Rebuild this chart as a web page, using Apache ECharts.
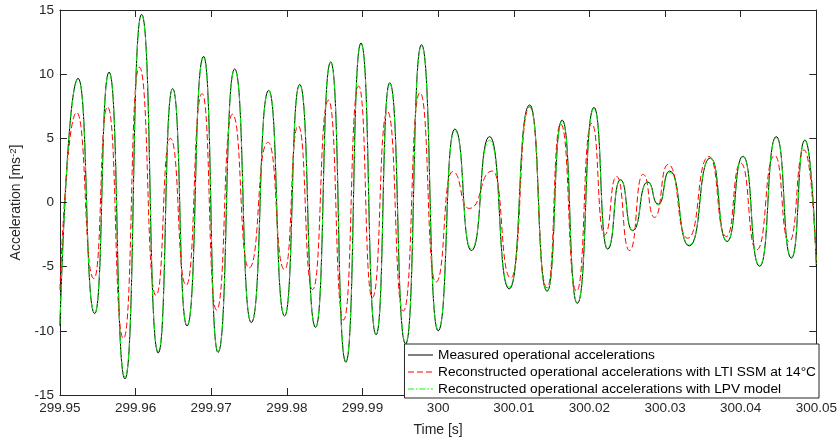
<!DOCTYPE html>
<html>
<head>
<meta charset="utf-8">
<script src="https://cdn.jsdelivr.net/npm/echarts@6/dist/echarts.min.js"></script>
<style>
  html, body { margin: 0; padding: 0; background: #fff; }
  #chart { width: 840px; height: 442px; }
</style>
</head>
<body>
<div id="chart"></div>
<script>
// Measured response: local extrema (time [s], acceleration [m/s^2])
const measuredT = [299.9500, 299.9524, 299.9546, 299.9565, 299.9586, 299.9608, 299.9630, 299.9649, 299.9668,
  299.9690, 299.9709, 299.9731, 299.9753, 299.9776, 299.9797, 299.9817, 299.9838, 299.9858, 299.9878,
  299.9898, 299.9918, 299.9936, 299.9957, 299.9978, 300.0000, 300.0022, 300.0044, 300.0068, 300.0094,
  300.0121, 300.0144, 300.0164, 300.0184, 300.0206, 300.0224, 300.0241, 300.0257, 300.0277, 300.0291,
  300.0306, 300.0332, 300.0360, 300.0382, 300.0403, 300.0425, 300.0447, 300.0467, 300.0485, 300.0500];
const measuredV = [-9.6, 9.67, -8.66, 10.16, -13.74, 14.67, -11.73, 8.89, -9.62,
  11.39, -11.68, 10.41, -9.36, 8.74, -8.84, 9.2, -9.74, 10.96, -12.45,
  12.43, -10.31, 9.33, -11.03, 12.3, -10.0, 5.72, -3.74, 5.13, -6.73,
  7.6, -6.91, 6.42, -7.86, 7.4, -3.63, 1.78, -2.19, 1.6, -0.13,
  2.45, -3.38, 3.48, -3.04, 3.61, -4.97, 5.13, -4.33, 4.87, -5.0];

// LTI state-space model at 14 °C
const ltiT = [299.9500, 299.9522, 299.9545, 299.9563, 299.9584, 299.9605, 299.9627, 299.9646, 299.9667,
  299.9688, 299.9707, 299.9728, 299.9750, 299.9775, 299.9797, 299.9815, 299.9834, 299.9855, 299.9875,
  299.9895, 299.9913, 299.9933, 299.9954, 299.9976, 299.9997, 300.0019, 300.0041, 300.0072, 300.0096,
  300.0121, 300.0144, 300.0162, 300.0183, 300.0203, 300.0220, 300.0236, 300.0253, 300.0271, 300.0286,
  300.0304, 300.0330, 300.0358, 300.0381, 300.0400, 300.0421, 300.0445, 300.0464, 300.0484, 300.0500];
const ltiV = [-6.8, 7.01, -5.93, 7.45, -10.6, 10.54, -7.24, 5.0, -6.44,
  8.48, -8.38, 6.88, -5.1, 4.69, -5.23, 5.98, -6.78, 7.97, -9.15,
  9.07, -7.42, 7.09, -8.45, 8.56, -6.21, 2.4, -0.46, 2.45, -5.88,
  7.45, -6.65, 6.11, -6.91, 6.16, -2.53, 2.03, -3.74, 2.19, -1.16,
  2.96, -2.78, 3.58, -2.65, 3.07, -3.69, 3.66, -3.04, 4.1, -4.7];

// LPV model
const lpvT = measuredT;
const lpvV = [-9.5, 9.6, -8.6, 10.1, -13.6, 14.6, -11.6, 8.85, -9.55,
  11.3, -11.6, 10.35, -9.3, 8.7, -8.8, 9.15, -9.7, 10.9, -12.35,
  12.35, -10.25, 9.25, -10.95, 12.2, -9.9, 5.6, -3.6, 4.85, -6.6,
  7.5, -6.85, 6.35, -7.8, 7.3, -3.5, 1.75, -2.15, 1.55, -0.2,
  2.35, -3.3, 3.45, -3.0, 3.55, -4.9, 5.05, -4.25, 4.8, -4.95];

const seriesNames = [
  'Measured operational accelerations',
  'Reconstructed operational accelerations with LTI SSM at 14°C',
  'Reconstructed operational accelerations with LPV model'
];

const xTicks = { min: 299.95, max: 300.05, step: 0.01 };
const yTicks = { min: -15, max: 15, step: 5 };

const zip = (t, v) => t.map((x, i) => [x, v[i]]);

const axisColor = '#262626';
const font = 'Liberation Sans, Arial, Helvetica, sans-serif';
const fontSize = 13.5;
const smoothness = 0.6;

const chart = echarts.init(document.getElementById('chart'), null, { renderer: 'canvas' });

const baseX = {
  type: 'value', min: xTicks.min, max: xTicks.max, interval: xTicks.step,
  axisLine: { show: true, onZero: false, lineStyle: { color: axisColor, width: 1 } },
  axisTick: { show: true, inside: true, length: 7, lineStyle: { color: axisColor } },
  splitLine: { show: false }
};
const baseY = {
  type: 'value', min: yTicks.min, max: yTicks.max, interval: yTicks.step,
  axisLine: { show: true, onZero: false, lineStyle: { color: axisColor, width: 1 } },
  axisTick: { show: true, inside: true, length: 7, lineStyle: { color: axisColor } },
  splitLine: { show: false }
};

chart.setOption({
  animation: false,
  backgroundColor: '#ffffff',
  textStyle: { fontFamily: font },
  grid: { left: 55, right: 21, top: 10, bottom: 44, containLabel: false },
  xAxis: [
    Object.assign({}, baseX, {
      position: 'bottom',
      axisLabel: {
        color: axisColor, fontSize: fontSize, fontFamily: font, margin: 6,
        formatter: v => String(parseFloat(v.toFixed(2)))
      },
      name: 'Time [s]', nameLocation: 'middle', nameGap: 28,
      nameTextStyle: { color: axisColor, fontSize: 14, fontFamily: font }
    }),
    Object.assign({}, baseX, {
      position: 'top',
      axisLabel: { show: false }
    })
  ],
  yAxis: [
    Object.assign({}, baseY, {
      position: 'left',
      axisLabel: { color: axisColor, fontSize: fontSize, fontFamily: font, margin: 6 },
      name: '{n|Acceleration [ms}{s|-2}{n|]}', nameLocation: 'middle', nameGap: 23,
      nameTextStyle: {
        rich: {
          n: { color: axisColor, fontSize: 14, fontFamily: font },
          s: { color: axisColor, fontSize: 9.5, fontFamily: font, padding: [0, 0, 7, 0] }
        }
      }
    }),
    Object.assign({}, baseY, {
      position: 'right',
      axisLabel: { show: false }
    })
  ],
  legend: {
    orient: 'vertical',
    right: 21, top: 344,
    backgroundColor: '#ffffff',
    borderColor: axisColor, borderWidth: 1,
    padding: [4, 3, 2, 3],
    itemGap: 3, itemWidth: 25, itemHeight: 14,
    itemStyle: { opacity: 0 },
    lineStyle: { width: 1 },
    textStyle: { color: '#000', fontSize: 13.7, fontFamily: font },
    data: seriesNames
  },
  series: [
    {
      name: seriesNames[0], type: 'line', data: zip(measuredT, measuredV),
      smooth: smoothness, smoothMonotone: 'x', symbol: 'none',
      lineStyle: { color: '#000000', width: 1, type: 'solid' },
      itemStyle: { color: '#000000' }
    },
    {
      name: seriesNames[1], type: 'line', data: zip(ltiT, ltiV),
      smooth: smoothness, smoothMonotone: 'x', symbol: 'none',
      lineStyle: { color: '#ff0000', width: 1, type: [6, 3] },
      itemStyle: { color: '#ff0000' }
    },
    {
      name: seriesNames[2], type: 'line', data: zip(lpvT, lpvV),
      smooth: smoothness, smoothMonotone: 'x', symbol: 'none',
      lineStyle: { color: '#00ff00', width: 1, type: [6, 2, 1.5, 2] },
      itemStyle: { color: '#00ff00' }
    }
  ]
});
</script>
</body>
</html>
